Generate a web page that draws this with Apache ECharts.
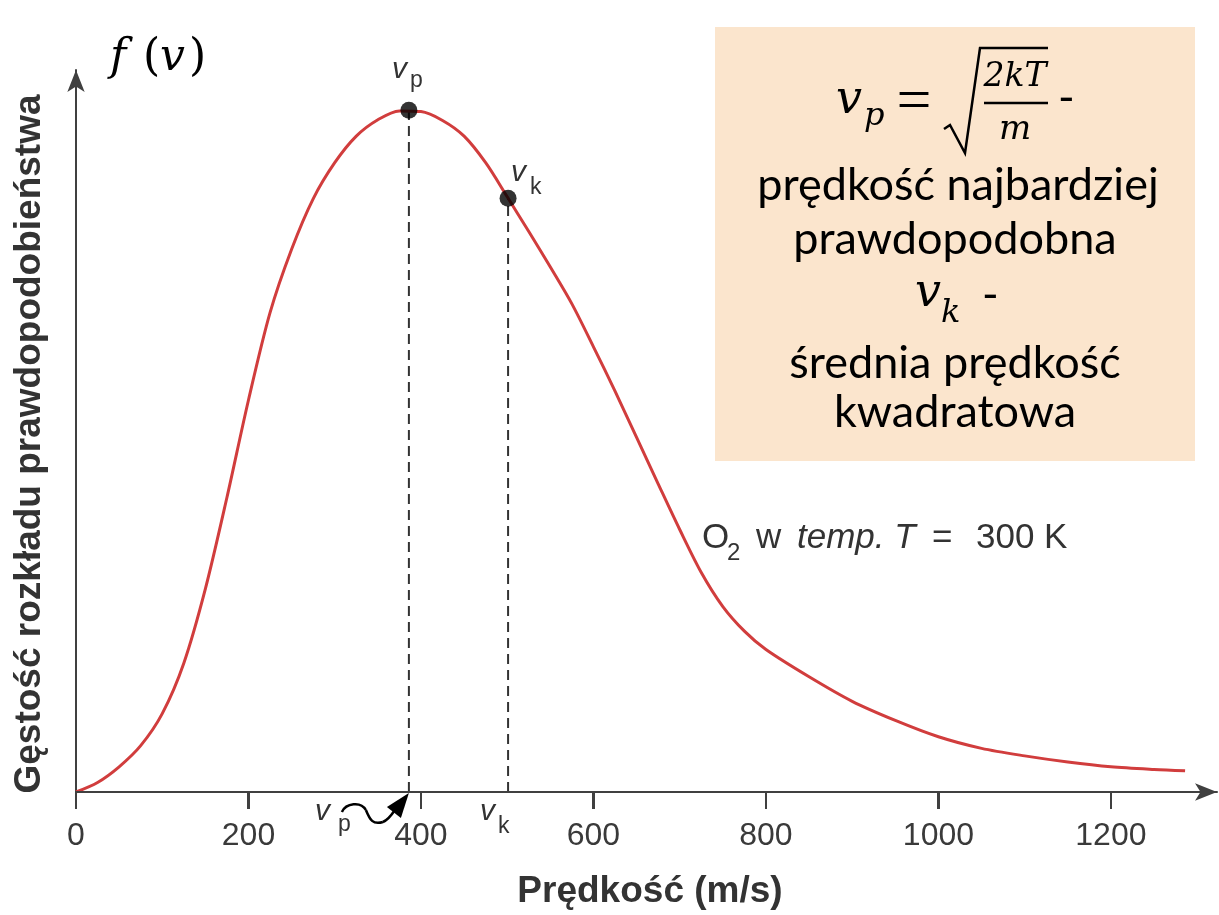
<!DOCTYPE html>
<html><head><meta charset="utf-8">
<script src="https://cdn.jsdelivr.net/npm/echarts@6.0.0/dist/echarts.min.js"></script>
<style>html,body{margin:0;padding:0;background:#fff}#c{width:1219px;height:915px}</style>
</head><body><div id="c"></div>
<script>
// ---- data ----
const speeds  = [0, 25, 50, 75, 100, 125, 150, 175, 200, 225, 250, 275, 300, 325, 350, 375, 400, 425, 450, 475, 500, 525, 550, 575, 600, 625, 650, 675, 700, 725, 750, 775, 800, 850, 900, 950, 1000, 1050, 1100, 1150, 1200, 1250, 1286];
const density = [0, 1.4, 3.7, 6.8, 11.5, 18.9, 29.8, 43.2, 57.5, 70.3, 79.6, 87.0, 92.3, 96.2, 98.6, 99.9, 99.8, 98.5, 96.2, 92.3, 87.3, 82.2, 77.0, 71.6, 65.3, 58.8, 52.0, 45.2, 38.5, 32.2, 27.2, 23.6, 20.9, 16.9, 13.3, 10.5, 8.1, 6.4, 5.3, 4.4, 3.7, 3.3, 3.1];
const xTicks = [0, 200, 400, 600, 800, 1000, 1200];
const vpSpeed = 386, vpDensity = 100;
const vkSpeed = 501, vkDensity = 87.1;
const xMax = 1323, yMax = 105.9;

const SANS = '"Liberation Sans", Arial, sans-serif';
const SERIF = '"DejaVu Serif", serif';
const TIMES = '"Liberation Serif", serif';
const BOXF = 'Lato, "Noto Sans", sans-serif';
const K = {sans: 0.3465, serif: 0.346, times: 0.3375, lato: 0.387};
const FAM = {sans: SANS, serif: SERIF, times: TIMES, lato: BOXF};

const curve = speeds.map((v, i) => [v, density[i]]);
const axisColor = '#404040';

const chart = echarts.init(document.getElementById('c'));
chart.setOption({
  animation: false,
  backgroundColor: '#fff',
  grid: {left: 76, right: 2, top: 70, bottom: 123, containLabel: false},
  xAxis: {
    type: 'value', min: 0, max: xMax,
    splitLine: {show: false},
    axisLine: {show: true, onZero: false, symbol: ['none', 'arrow'], symbolSize: [13, 22],
      lineStyle: {color: axisColor, width: 2}},
    axisTick: {show: true, customValues: xTicks.slice(), length: 17, lineStyle: {color: axisColor, width: 2}},
    axisLabel: {show: true, customValues: xTicks.slice(), fontSize: 32, color: '#3a3a3a', fontFamily: SANS, margin: 28,
      formatter: v => String(v)}
  },
  yAxis: {
    type: 'value', min: 0, max: yMax,
    splitLine: {show: false},
    axisLine: {show: true, symbol: ['none', 'arrow'], symbolSize: [13, 22],
      lineStyle: {color: axisColor, width: 2}},
    axisTick: {show: false}, axisLabel: {show: false}
  },
  series: [
    {type: 'line', data: [[vpSpeed, 0], [vpSpeed, vpDensity]], symbol: 'none', z: 1,
      lineStyle: {color: '#333', width: 2, type: [10, 6]}},
    {type: 'line', data: [[vkSpeed, 0], [vkSpeed, vkDensity]], symbol: 'none', z: 1,
      lineStyle: {color: '#333', width: 2, type: [10, 6]}},
    {type: 'line', data: curve, symbol: 'none', smooth: 0.3, z: 2,
      lineStyle: {color: '#d13d3d', width: 3}},
    {type: 'scatter', data: [[vpSpeed, vpDensity], [vkSpeed, vkDensity]], symbol: 'circle',
      symbolSize: 17, z: 3, itemStyle: {color: '#000'}}
  ]
});

const px = (v, f) => chart.convertToPixel({gridIndex: 0}, [v, f]);
const [vpX, vpY] = px(vpSpeed, vpDensity);
const [vkX, vkY] = px(vkSpeed, vkDensity);
const baseY = px(0, 0)[1];

function T(x, baseline, text, size, fam, o) {
  o = o || {};
  return {type: 'text', x: x, y: baseline - K[fam] * size, z: 10,
    style: {text: text, fontSize: size, fontFamily: FAM[fam], fontStyle: o.italic ? 'italic' : 'normal',
      fontWeight: o.bold ? 'bold' : 'normal', fill: o.color || '#000', align: o.align || 'left',
      verticalAlign: 'middle'}};
}

const labColor = '#333';
const g = [];
// tick marks: one zig-zag polyline running along the axis line, dipping down at each tick value
const tickPts = [];
xTicks.forEach(v => {
  const x = Math.round(px(v, 0)[0]);
  tickPts.push([x, baseY], [x, baseY + 17], [x, baseY]);
});
g.push({type: 'polyline', z: 20, shape: {points: tickPts},
  style: {stroke: axisColor, lineWidth: 2, fill: null, lineJoin: 'miter'}});
// box
g.push({type: 'rect', z: 5, shape: {x: 715, y: 27, width: 480, height: 434}, style: {fill: '#FBE5CD'}});
// formula v_p = sqrt(2kT/m) -
g.push(T(836, 117, 'v', 46, 'serif', {italic: true}));
g.push(T(864, 128, 'p', 32, 'serif', {italic: true}));
g.push(T(914, 125, '=', 62, 'times', {align: 'center'}));
g.push({type: 'polyline', z: 10, shape: {points: [[944, 129], [950, 125], [965, 153], [980, 48], [1048, 48]]},
  style: {stroke: '#000', lineWidth: 2.5, fill: null}});
g.push(T(1015, 89, '2kT', 33, 'serif', {italic: true, align: 'center'}));
g.push({type: 'line', z: 10, shape: {x1: 984, y1: 103, x2: 1048, y2: 103}, style: {stroke: '#000', lineWidth: 2.5}});
g.push(T(1015, 142, 'm', 34, 'serif', {italic: true, align: 'center'}));
g.push(T(1058, 116, '-', 45, 'lato'));
g.push(T(958, 203, 'prędkość najbardziej', 45, 'lato', {align: 'center'}));
g.push(T(955, 257, 'prawdopodobna', 45, 'lato', {align: 'center'}));
g.push(T(915, 310, 'v', 46, 'serif', {italic: true}));
g.push(T(941, 325, 'k', 32, 'serif', {italic: true}));
g.push(T(982, 313, '-', 45, 'lato'));
g.push(T(955, 381, 'średnia prędkość', 45, 'lato', {align: 'center'}));
g.push(T(955, 430, 'kwadratowa', 45, 'lato', {align: 'center'}));

// f(v)
g.push(T(110, 74, 'f', 44, 'serif', {italic: true}));
g.push(T(143, 74, '(', 44, 'serif'));
g.push(T(160, 74, 'v', 44, 'serif', {italic: true}));
g.push(T(189, 74, ')', 44, 'serif'));

// axis names
g.push({type: 'text', x: 650, y: 892, z: 10,
  style: {text: 'Prędkość (m/s)', fontSize: 37, fontWeight: 'bold', fontFamily: SANS, fill: '#333',
    align: 'center', verticalAlign: 'middle'}});
g.push({type: 'text', x: 30, y: 444, rotation: Math.PI / 2, z: 10,
  style: {text: 'Gęstość rozkładu prawdopodobieństwa', fontSize: 37, fontWeight: 'bold', fontFamily: SANS,
    fill: '#333', align: 'center', verticalAlign: 'middle'}});

// O2 label
g.push(T(702, 550, 'O', 35, 'sans', {color: labColor}));
g.push(T(727, 562, '2', 24, 'sans', {color: labColor}));
g.push(T(756, 550, 'w', 35, 'sans', {color: labColor}));
g.push(T(797, 550, 'temp. T', 35, 'sans', {italic: true, color: labColor}));
g.push(T(932, 550, '=', 35, 'sans', {color: labColor}));
g.push(T(976, 550, '300 K', 35, 'sans', {color: labColor}));

// point labels
g.push(T(vpX - 17, vpY - 30, 'v', 30, 'sans', {italic: true, color: labColor}));
g.push(T(vpX + 1, vpY - 22, 'p', 23, 'sans', {color: labColor}));
g.push(T(vkX + 3, vkY - 15, 'v', 30, 'sans', {italic: true, color: labColor}));
g.push(T(vkX + 22, vkY - 3, 'k', 23, 'sans', {color: labColor}));
// axis labels v_p, v_k
g.push(T(vpX - 94, baseY + 30, 'v', 30, 'sans', {italic: true, color: labColor}));
g.push(T(vpX - 71, baseY + 41, 'p', 23, 'sans', {color: labColor}));
g.push(T(vkX - 28, baseY + 30, 'v', 30, 'sans', {italic: true, color: labColor}));
g.push(T(vkX - 10, baseY + 43, 'k', 23, 'sans', {color: labColor}));
// squiggly arrow pointing at v_p on the axis
const ax = vpX, ay = baseY + 1;
const bz = (p) => ({type: 'bezierCurve', z: 10,
  shape: {x1: ax + p[0], y1: ay + p[1], cpx1: ax + p[2], cpy1: ay + p[3], cpx2: ax + p[4], cpy2: ay + p[5], x2: ax + p[6], y2: ay + p[7]},
  style: {stroke: '#000', lineWidth: 2.5, fill: null}});
g.push(bz([-67, 19, -63, 10, -48, 8, -43, 17]));
g.push(bz([-43, 17, -39, 27, -36, 32, -26, 29]));
g.push(bz([-26, 29, -21, 27, -18, 23, -14, 17]));
g.push({type: 'polygon', z: 10, shape: {points: [[ax, ay], [ax - 8, ay + 25], [ax - 22, ay + 14]]},
  style: {fill: '#000'}});

chart.setOption({graphic: g});
</script>
</body></html>
